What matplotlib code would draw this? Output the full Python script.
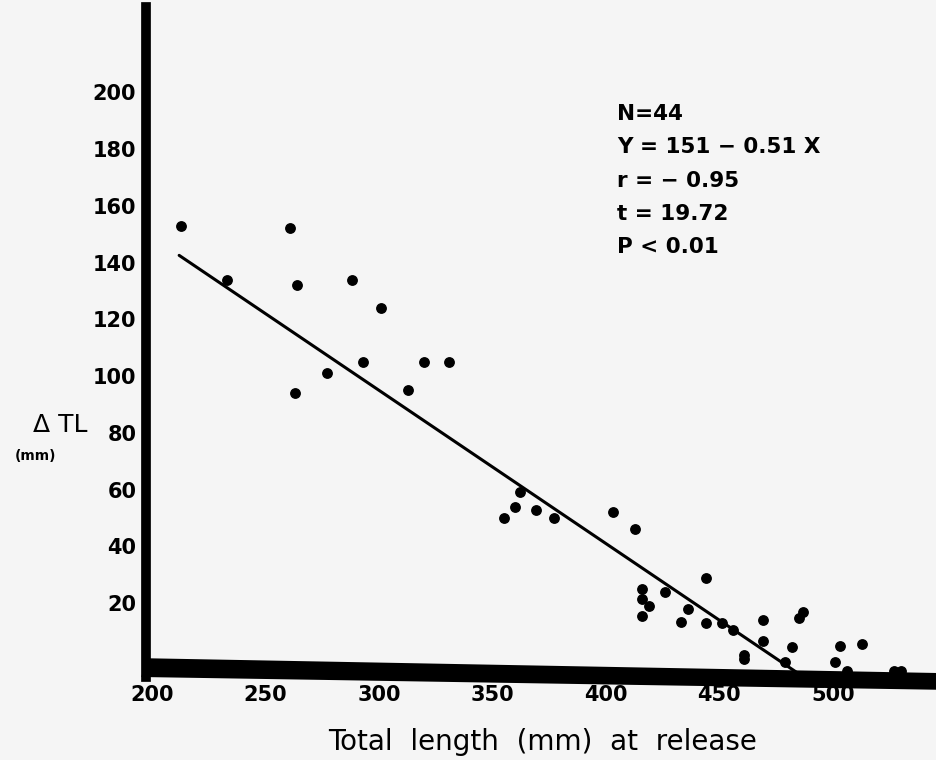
import numpy as np
import matplotlib
matplotlib.use("Agg")
import matplotlib.pyplot as plt
from matplotlib.patches import Polygon

# -------------------------------------------------
# Datos (longitud total al marcar vs crecimiento)
total_length = [213, 233, 261, 264, 288, 301, 293, 320, 331, 277, 313, 263,
                362, 360, 369, 355, 377, 403, 413,
                444, 416, 426, 416, 419, 436, 416, 433, 444, 451, 456, 469,
                487, 485, 469, 482, 461, 461, 479, 503, 513, 501, 506, 527, 530]
delta_tl = [153, 134, 152, 132, 134, 124, 105, 105, 105, 101, 95, 94,
            59, 54, 53, 50, 50, 52, 46,
            29, 25, 24, 21.5, 19, 18, 15.5, 13.5, 13, 13, 10.5, 14,
            17, 14.7, 6.7, 4.7, 1.8, 0.5, -0.6, 4.8, 5.7, -0.6, -3.8, -3.9, -3.9]

# recta ajustada (tal como esta dibujada)
fit_x = [212, 485]
fit_intercept = 257
fit_slope = -0.54

x_ticks = [200, 250, 300, 350, 400, 450, 500]
y_ticks = [20, 40, 60, 80, 100, 120, 140, 160, 180, 200]

stats_lines = ["N=44", "Y = 151 \u2212 0.51 X", "r = \u2212 0.95", "t = 19.72", "P < 0.01"]

# -------------------------------------------------
W, H = 936, 760
fig = plt.figure(figsize=(W / 100, H / 100), dpi=100)
bg = "#f5f5f5"
fig.patch.set_facecolor(bg)

ax = fig.add_axes([146 / W, 1 - 677 / H, 790 / W, 670 / H])
ax.set_facecolor(bg)
ax.set_xlim(197.4, 545.4)
ax.set_ylim(-6, 230)

# puntos y recta
ax.scatter(total_length, delta_tl, s=46, color="black", zorder=3, clip_on=False)
xs = np.array(fit_x)
ax.plot(xs, fit_intercept + fit_slope * xs, color="black", lw=2.2, zorder=2,
        solid_capstyle="round")

# ejes
for s in ["top", "right", "bottom"]:
    ax.spines[s].set_visible(False)
ax.spines["left"].set_linewidth(7)
ax.spines["left"].set_color("black")

# barra gruesa del eje x (un poco inclinada como en el original)
bar = Polygon([(0, 0.028), (1, 0.006), (1, -0.019), (-0.006, 0.0)],
              closed=True, transform=ax.transAxes, facecolor="black",
              edgecolor="none", clip_on=False, zorder=5)
ax.add_patch(bar)

ax.set_xticks(x_ticks)
ax.set_yticks(y_ticks)
ax.tick_params(axis="both", length=0, labelsize=15)
ax.tick_params(axis="x", pad=6)
ax.tick_params(axis="y", pad=7)
for lab in ax.get_xticklabels() + ax.get_yticklabels():
    lab.set_fontweight("bold")

# textos
for i, line in enumerate(stats_lines):
    fig.text(617 / W, 1 - (114 + 33.3 * i) / H, line, fontsize=15.5,
             fontweight="bold", va="center", ha="left")

fig.text(543 / W, 1 - 742 / H, "Total  length  (mm)  at  release",
         fontsize=20, ha="center", va="center")
fig.text(60 / W, 1 - 425 / H, "\u0394 TL", fontsize=18, ha="center", va="center")
fig.text(36 / W, 1 - 456 / H, "(mm)", fontsize=10, fontweight="bold",
         ha="center", va="center")

fig.savefig("out.png", dpi=100, facecolor=fig.get_facecolor())
